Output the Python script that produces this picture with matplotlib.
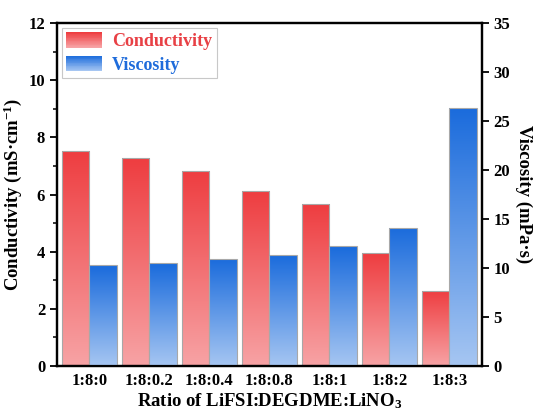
import numpy as np
import matplotlib
matplotlib.use("Agg")
import matplotlib.pyplot as plt
from matplotlib.colors import LinearSegmentedColormap
from matplotlib.legend_handler import HandlerBase
from matplotlib.patches import Rectangle
from matplotlib.ticker import MultipleLocator

plt.rcParams['font.family'] = 'Liberation Serif'
plt.rcParams['font.weight'] = 'bold'
plt.rcParams['axes.labelweight'] = 'bold'
plt.rcParams['mathtext.fontset'] = 'custom'
plt.rcParams['mathtext.rm'] = 'Liberation Serif:bold'
plt.rcParams['mathtext.bf'] = 'Liberation Serif:bold'
plt.rcParams['mathtext.default'] = 'bf'

ratios = ['1:8:0', '1:8:0.2', '1:8:0.4', '1:8:0.8', '1:8:1', '1:8:2', '1:8:3']
conductivity = [7.53, 7.27, 6.83, 6.11, 5.66, 3.95, 2.64]
viscosity = [10.3, 10.5, 10.95, 11.35, 12.2, 14.1, 26.35]

red_top, red_bot = '#ee3d40', '#f7a3a5'
blue_top, blue_bot = '#1a6bdc', '#a6c6f2'
red_cmap = LinearSegmentedColormap.from_list('r', [red_bot, red_top])
blue_cmap = LinearSegmentedColormap.from_list('b', [blue_bot, blue_top])


def fill_gradient(ax, bars, cmap):
    grad = np.linspace(0, 1, 256).reshape(-1, 1)
    for p in bars:
        x0, y0 = p.get_x(), p.get_y()
        w, h = p.get_width(), p.get_height()
        im = ax.imshow(grad, extent=[x0, x0 + w, y0, y0 + h], origin='lower',
                       aspect='auto', cmap=cmap, zorder=1.5)
        im.set_clip_path(p)
        p.set_facecolor('none')
        p.set_zorder(2)


class GradHandler(HandlerBase):
    def __init__(self, c_top, c_bot, n=20):
        super().__init__()
        self.c_top, self.c_bot, self.n = c_top, c_bot, n

    def create_artists(self, legend, orig_handle, xdescent, ydescent,
                       width, height, fontsize, trans):
        cmap = LinearSegmentedColormap.from_list('g', [self.c_bot, self.c_top])
        arts = []
        for i in range(self.n):
            r = Rectangle((-xdescent, -ydescent + height * i / self.n),
                          width, height / self.n * 1.05,
                          facecolor=cmap(i / (self.n - 1)), edgecolor='none',
                          transform=trans)
            arts.append(r)
        return arts


fig = plt.figure(figsize=(5.33, 4.13), dpi=100)
ax = fig.add_axes([0.107, 0.114, 0.797, 0.830])
ax2 = ax.twinx()

x = np.arange(len(ratios))
w = 0.46
b1 = ax.bar(x - w / 2, conductivity, w, edgecolor='#a8a8a8', linewidth=0.8)
b2 = ax2.bar(x + w / 2, viscosity, w, edgecolor='#a8a8a8', linewidth=0.8)
fill_gradient(ax, b1, red_cmap)
fill_gradient(ax2, b2, blue_cmap)

ax.set_xlim(-0.54, 6.54)
ax.set_ylim(0, 12)
ax2.set_ylim(0, 35)

ax.set_xticks(x)
ax.set_xticklabels(ratios, fontsize=12)
ax.tick_params(axis='x', length=0, pad=5)
ax.yaxis.set_major_locator(MultipleLocator(2))
ax.yaxis.set_minor_locator(MultipleLocator(1))
ax.tick_params(axis='y', which='major', direction='out', length=5, width=1.3, labelsize=12)
ax.tick_params(axis='y', which='minor', direction='out', length=3, width=1.1)
ax2.yaxis.set_major_locator(MultipleLocator(5))
ax2.tick_params(axis='y', which='major', direction='out', length=5, width=1.3, labelsize=12)

for a in (ax, ax2):
    for s in a.spines.values():
        s.set_linewidth(1.6)

ax.set_ylabel('Conductivity (mS·cm$^{-1}$)', fontsize=13.5, labelpad=3)
ax2.set_ylabel('Viscosity (mPa·s)', fontsize=13.5, rotation=270, labelpad=16)
ax.set_xlabel('Ratio of LiFSI:DEGDME:LiNO$_3$', fontsize=13.5, labelpad=2)

h1 = Rectangle((0, 0), 1, 1)
h2 = Rectangle((0, 0), 1, 1)
leg = ax2.legend([h1, h2], ['Conductivity', 'Viscosity'],
                 handler_map={h1: GradHandler(red_top, red_bot),
                              h2: GradHandler(blue_top, blue_bot)},
                 loc='upper left', bbox_to_anchor=(0.0, 1.0), fontsize=13,
                 fancybox=False, edgecolor='#c8c8c8', framealpha=1,
                 handlelength=2.0, handleheight=0.95, borderpad=0.25,
                 labelspacing=0.3, handletextpad=0.55, borderaxespad=0.25)
leg.get_frame().set_linewidth(0.8)
leg.get_texts()[0].set_color('#e84045')
leg.get_texts()[1].set_color('#1f6cdb')

fig.savefig('out.png', dpi=100)
